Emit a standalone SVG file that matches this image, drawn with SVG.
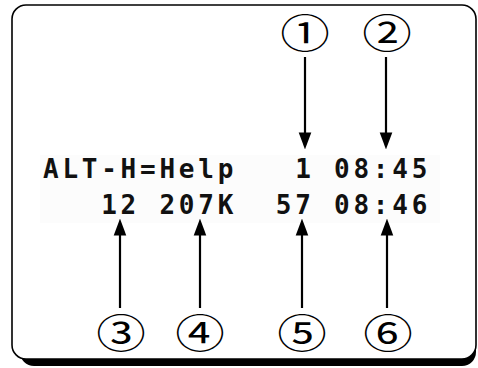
<svg xmlns="http://www.w3.org/2000/svg" width="478" height="368" viewBox="0 0 478 368">
<style>
.mono{font-family:"DejaVu Sans Mono","Liberation Mono",monospace;font-weight:bold;font-size:26px;letter-spacing:3.75px;fill:#111;}
.num{font-family:"Noto Sans CJK JP","DejaVu Sans",sans-serif;font-size:40px;fill:#000;text-anchor:middle;}
.conn line{stroke:#000;stroke-width:2.2;}
</style>
<defs>
<marker id="ah" markerWidth="17" markerHeight="23" refX="17" refY="8.5" orient="auto" markerUnits="userSpaceOnUse" viewBox="0 0 23 17">
<path d="M0,0 L23,8.5 L0,17 Z" fill="#000"/>
</marker>
</defs>
<g id="frame">
<rect x="20" y="12" width="456" height="354" rx="14" fill="#000"/>
<rect x="12" y="5" width="464" height="354" rx="14" fill="#fff" stroke="#000" stroke-width="1.6"/>
<rect x="40" y="155" width="400" height="68" fill="#fcfcfc"/>
</g>
<g id="display">
<text class="mono" x="43" y="178" xml:space="preserve">ALT-H=Help   1 08:45</text>
<text class="mono" x="43" y="214" xml:space="preserve">   12 207K  57 08:46</text>
</g>
<g id="connectors" class="conn">
<line x1="305" y1="57" x2="305" y2="145" marker-end="url(#ah)"/>
<line x1="386" y1="57" x2="386" y2="145" marker-end="url(#ah)"/>
<line x1="120" y1="308" x2="120" y2="223" marker-end="url(#ah)"/>
<line x1="200" y1="308" x2="200" y2="223" marker-end="url(#ah)"/>
<line x1="302" y1="308" x2="302" y2="223" marker-end="url(#ah)"/>
<line x1="387" y1="308" x2="387" y2="223" marker-end="url(#ah)"/>
</g>
<g id="n1"><text class="num" transform="translate(305,47.5) scale(1.24,1)">①</text></g>
<g id="n2"><text class="num" transform="translate(387,47.5) scale(1.24,1)">②</text></g>
<g id="n3"><text class="num" transform="translate(121,348) scale(1.24,1)">③</text></g>
<g id="n4"><text class="num" transform="translate(200,348) scale(1.24,1)">④</text></g>
<g id="n5"><text class="num" transform="translate(302,348) scale(1.24,1)">⑤</text></g>
<g id="n6"><text class="num" transform="translate(388,348) scale(1.24,1)">⑥</text></g>
</svg>
